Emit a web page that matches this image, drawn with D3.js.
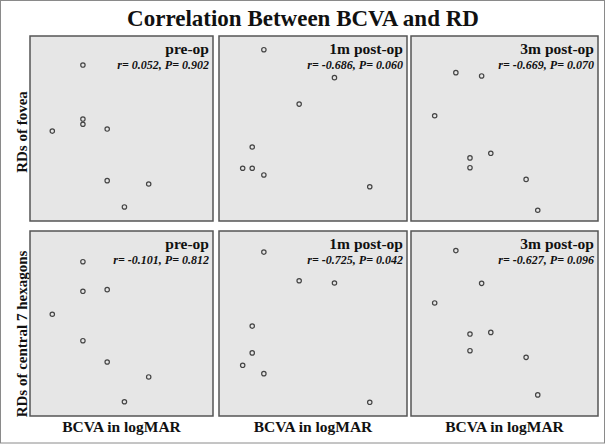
<!DOCTYPE html>
<html><head><meta charset="utf-8">
<script src="https://cdn.jsdelivr.net/npm/d3@7"></script>
<style>html,body{margin:0;padding:0;background:#fff;}svg{display:block;}</style>
</head><body>
<script>
// ---- data ----
const chartTitle = "Correlation Between BCVA and RD";
const timepoints = ["pre-op", "1m post-op", "3m post-op"];
const regions = ["RDs of fovea", "RDs of central 7 hexagons"];
const xAxisLabel = "BCVA in logMAR";
const statLabels = [
  ["r= 0.052, P= 0.902", "r= -0.686, P= 0.060", "r= -0.669, P= 0.070"],
  ["r= -0.101, P= 0.812", "r= -0.725, P= 0.042", "r= -0.627, P= 0.096"]
];
// BCVA (logMAR) per panel, 8 eyes
const bcvaPreFovea = [0.523, 0.523, 0.523, 0.301, 0.699, 0.699, 1.0, 0.824];
const rdPreFovea   = [84.3, 55.1, 52.3, 48.6, 49.7, 21.8, 20.0, 7.6];
const bcvaPreHex   = [0.523, 0.523, 0.699, 0.301, 0.523, 0.699, 1.0, 0.824];
const rdPreHex     = [83.4, 67.4, 68.3, 55.0, 40.7, 29.2, 21.1, 7.7];
const bcva1mFovea  = [0.16, 0.36, 0.26, 0.127, 0.1, 0.127, 0.16, 0.46];
const rd1mFovea    = [92.6, 77.5, 63.2, 40.0, 28.5, 28.5, 24.9, 18.5];
const bcva1mHex    = [0.16, 0.26, 0.36, 0.127, 0.127, 0.1, 0.16, 0.46];
const rd1mHex      = [88.6, 73.1, 71.9, 48.6, 34.1, 27.4, 22.9, 7.4];
const bcva3mFovea  = [0.16, 0.233, 0.1, 0.259, 0.2, 0.2, 0.359, 0.392];
const rd3mFovea    = [80.2, 78.4, 56.9, 36.6, 34.1, 28.8, 22.5, 5.8];
const bcva3mHex    = [0.16, 0.233, 0.1, 0.259, 0.2, 0.2, 0.359, 0.392];
const rd3mHex      = [89.4, 71.7, 61.1, 45.2, 44.3, 35.3, 31.7, 11.4];

const panelData = [
  [[bcvaPreFovea, rdPreFovea], [bcva1mFovea, rd1mFovea], [bcva3mFovea, rd3mFovea]],
  [[bcvaPreHex, rdPreHex], [bcva1mHex, rd1mHex], [bcva3mHex, rd3mHex]]
];
const xDomains = [[0.1393, 1.4663], [0.0329, 0.5655], [0.0329, 0.5627]];
const yDomain = [0, 100];

// ---- layout ----
const W = 605, H = 444;
const colX = [[30, 213], [219, 407], [411, 598]];
const rowY = [[36, 221], [231, 416]];
const serif = "'Liberation Serif','Times New Roman',serif";

const svg = d3.select("body").append("svg").attr("width", W).attr("height", H);
svg.append("rect").attr("x", 0.5).attr("y", 0.5).attr("width", W - 1).attr("height", H - 1.5)
  .attr("fill", "#fff").attr("stroke", "#8a8a8a").attr("stroke-width", 1);

svg.append("text").attr("x", 303).attr("y", 26).attr("text-anchor", "middle")
  .attr("font-family", serif).attr("font-weight", "bold").attr("font-size", 23)
  .attr("fill", "#111").text(chartTitle);

regions.forEach((reg, r) => {
  const [y0, y1] = rowY[r];
  const cy = r === 0 ? 132 : 334;
  svg.append("text").attr("transform", `translate(27,${cy}) rotate(-90)`)
    .attr("text-anchor", "middle").attr("font-family", serif).attr("font-weight", "bold")
    .attr("font-size", 15).attr("fill", "#111").text(reg);

  timepoints.forEach((tp, c) => {
    const [x0, x1] = colX[c];
    const xs = d3.scaleLinear().domain(xDomains[c]).range([x0, x1]);
    const ys = d3.scaleLinear().domain(yDomain).range([y1, y0]);
    const g = svg.append("g");
    g.append("rect").attr("x", x0).attr("y", y0).attr("width", x1 - x0).attr("height", y1 - y0)
      .attr("fill", "#e6e6e6").attr("stroke", "#555").attr("stroke-width", 1.5);
    const [bx, ry] = panelData[r][c];
    g.selectAll("circle").data(bx.map((v, i) => [v, ry[i]])).join("circle")
      .attr("cx", d => xs(d[0])).attr("cy", d => ys(d[1])).attr("r", 2.2)
      .attr("fill", "none").attr("stroke", "#444").attr("stroke-width", 1.2);
    g.append("text").attr("x", x1 - 4).attr("y", y0 + 18).attr("text-anchor", "end")
      .attr("font-family", serif).attr("font-weight", "bold").attr("font-size", 15.5)
      .attr("fill", "#111").text(tp);
    g.append("text").attr("x", x1 - 4).attr("y", y0 + 33).attr("text-anchor", "end")
      .attr("font-family", serif).attr("font-weight", "bold").attr("font-style", "italic")
      .attr("font-size", 12).attr("fill", "#111").text(statLabels[r][c]);
    if (r === 1) {
      svg.append("text").attr("x", (x0 + x1) / 2).attr("y", 432).attr("text-anchor", "middle")
        .attr("font-family", serif).attr("font-weight", "bold").attr("font-size", 15.5)
        .attr("fill", "#111").text(xAxisLabel);
    }
  });
});
</script>
</body></html>
